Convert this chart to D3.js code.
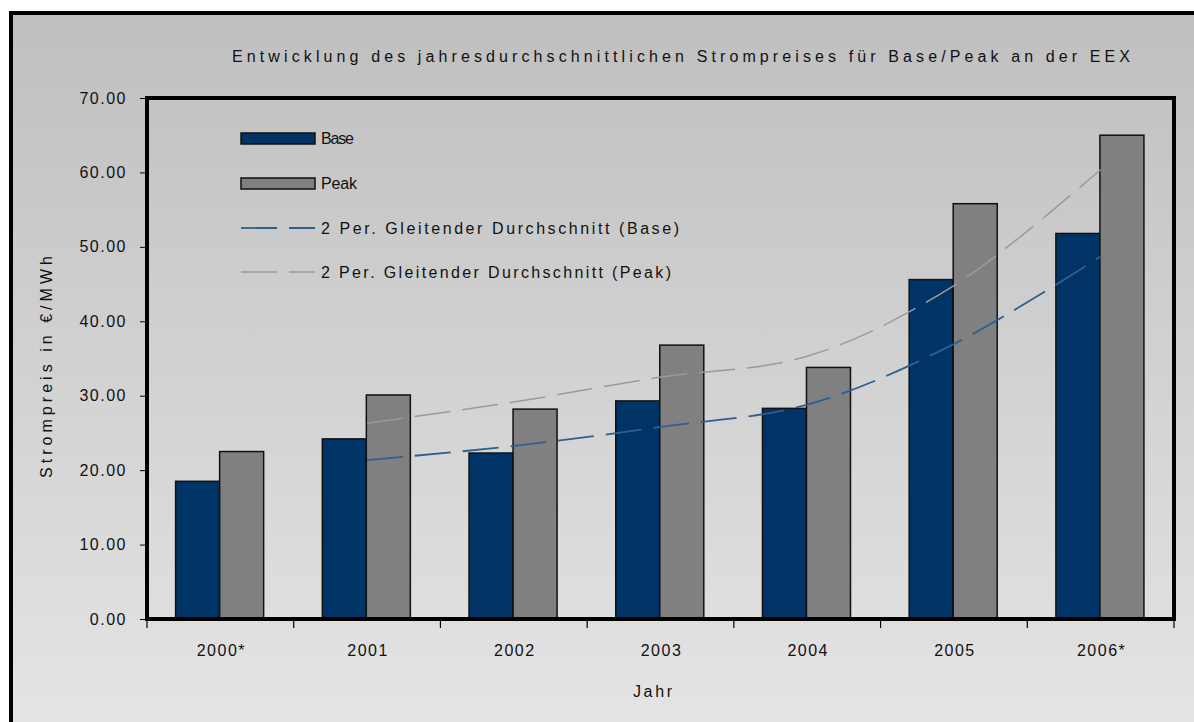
<!DOCTYPE html>
<html>
<head>
<meta charset="utf-8">
<script src="https://cdn.jsdelivr.net/npm/d3@7"></script>
<style>
  html, body { margin: 0; padding: 0; background: #fff; }
  svg { display: block; font-family: "Liberation Sans", Arial, sans-serif; }
</style>
</head>
<body>
<svg id="chart" width="1194" height="722"></svg>
<script>
// Jahresdurchschnittliche Strompreise an der EEX (€/MWh)
const years = ["2000*", "2001", "2002", "2003", "2004", "2005", "2006*"];
const base = [18.5, 24.2, 22.3, 29.3, 28.3, 45.6, 51.8];
const peak = [22.5, 30.1, 28.2, 36.8, 33.8, 55.8, 65.0];
const yTicks = [0, 10, 20, 30, 40, 50, 60, 70];

const titleText = "Entwicklung des jahresdurchschnittlichen Strompreises für Base/Peak an der EEX";
const yTitle = "Strompreis in €/MWh";
const xTitle = "Jahr";
const legendLabels = ["Base", "Peak", "2 Per. Gleitender Durchschnitt (Base)", "2 Per. Gleitender Durchschnitt (Peak)"];

const W = 1194, H = 722;
const plot = { left: 147, right: 1174, top: 98, bottom: 619 };
const FS = 16;

const svg = d3.select("#chart");
const defs = svg.append("defs");
const grad = defs.append("linearGradient").attr("id", "bg").attr("x1", 0).attr("y1", 0).attr("x2", 0).attr("y2", 1);
grad.append("stop").attr("offset", "0%").attr("stop-color", "#bfbfbf");
grad.append("stop").attr("offset", "100%").attr("stop-color", "#e4e4e4");

// chart background and outer frame
svg.append("rect").attr("x", 11).attr("y", 13).attr("width", W - 11).attr("height", H - 13).attr("fill", "url(#bg)");
svg.append("path").attr("d", `M11,${H} L11,13 L${W},13`).attr("fill", "none").attr("stroke", "#000").attr("stroke-width", 4);

// scales
const x = d3.scaleBand().domain(years).range([plot.left, plot.right]);
const xInner = d3.scaleBand().domain(["base", "peak"]).range([x.bandwidth() * 0.195, x.bandwidth() * 0.795]);
const y = d3.scaleLinear().domain([0, 70]).range([plot.bottom, plot.top]);

// bars
const seriesData = years.map((yr, i) => ({ year: yr, base: base[i], peak: peak[i] }));
const colors = { base: "#003366", peak: "#808080" };
const groups = svg.append("g").selectAll("g").data(seriesData).join("g")
  .attr("transform", d => `translate(${x(d.year)},0)`);
groups.selectAll("rect").data(d => ["base", "peak"].map(k => ({ key: k, value: d[k] }))).join("rect")
  .attr("x", d => xInner(d.key))
  .attr("width", xInner.bandwidth())
  .attr("y", d => y(d.value))
  .attr("height", d => y(0) - y(d.value))
  .attr("fill", d => colors[d.key])
  .attr("stroke", "#111")
  .attr("stroke-width", 1.5);

// 2-period moving average trendlines
function movingAvg(values) {
  return values.slice(1).map((v, i) => ({ year: years[i + 1], value: d3.mean([values[i], v]) }));
}
const line = d3.line()
  .x(d => x(d.year) + x.bandwidth() / 2)
  .y(d => y(d.value))
  .curve(d3.curveCatmullRom.alpha(0.5));
const maColors = { base: "#2f5f8f", peak: "#9a9a9a" };
svg.append("path").datum(movingAvg(base)).attr("d", line)
  .attr("fill", "none").attr("stroke", maColors.base).attr("stroke-width", 1.8).attr("stroke-dasharray", "36,12");
svg.append("path").datum(movingAvg(peak)).attr("d", line)
  .attr("fill", "none").attr("stroke", maColors.peak).attr("stroke-width", 1.5).attr("stroke-dasharray", "36,12");

// plot frame
svg.append("rect")
  .attr("x", plot.left).attr("y", plot.top)
  .attr("width", plot.right - plot.left).attr("height", plot.bottom - plot.top)
  .attr("fill", "none").attr("stroke", "#000").attr("stroke-width", 4);

// y axis
const yAxis = svg.append("g").attr("transform", `translate(${plot.left - 2},0)`)
  .call(d3.axisLeft(y).tickValues(yTicks).tickFormat(d3.format(".2f")).tickSize(5).tickPadding(13));
yAxis.select(".domain").remove();
yAxis.selectAll("line").attr("stroke", "#000");
yAxis.selectAll("text").attr("font-size", FS).attr("fill", "#111").attr("letter-spacing", "1.5px")
  .attr("font-family", "'Liberation Sans', Arial, sans-serif");

// x axis ticks at category boundaries
const boundaries = years.map(d => x(d)).concat([plot.right]);
svg.append("g").selectAll("line").data(boundaries).join("line")
  .attr("x1", d => d).attr("x2", d => d)
  .attr("y1", plot.bottom).attr("y2", plot.bottom + 9)
  .attr("stroke", "#000").attr("stroke-width", 1.2);
svg.append("g").selectAll("text").data(years).join("text")
  .attr("x", d => x(d) + x.bandwidth() / 2 + 1)
  .attr("y", 656)
  .attr("text-anchor", "middle")
  .attr("font-size", FS).attr("fill", "#111").attr("letter-spacing", "1.5px")
  .text(d => d);

// titles
svg.append("text").attr("x", 232).attr("y", 62)
  .attr("font-size", FS).attr("fill", "#111")
  .attr("textLength", 898).attr("lengthAdjust", "spacing")
  .text(titleText);
svg.append("text").attr("transform", "translate(52,367) rotate(-90)")
  .attr("text-anchor", "middle").attr("font-size", FS).attr("fill", "#111")
  .attr("textLength", 222).attr("lengthAdjust", "spacing")
  .text(yTitle);
svg.append("text").attr("x", 633).attr("y", 697)
  .attr("font-size", FS).attr("fill", "#111")
  .attr("textLength", 39).attr("lengthAdjust", "spacing")
  .text(xTitle);

// legend
const legendY = [138, 183, 228, 272];
const legendW = [33, 36, 358, 350];
const lg = svg.append("g");
lg.append("rect").attr("x", 241).attr("y", legendY[0] - 5).attr("width", 74).attr("height", 11)
  .attr("fill", colors.base).attr("stroke", "#111").attr("stroke-width", 1.5);
lg.append("rect").attr("x", 241).attr("y", legendY[1] - 5).attr("width", 74).attr("height", 11)
  .attr("fill", colors.peak).attr("stroke", "#111").attr("stroke-width", 1.5);
lg.append("line").attr("x1", 241).attr("x2", 315).attr("y1", legendY[2]).attr("y2", legendY[2])
  .attr("stroke", maColors.base).attr("stroke-width", 1.8).attr("stroke-dasharray", "36,12");
lg.append("line").attr("x1", 241).attr("x2", 315).attr("y1", legendY[3]).attr("y2", legendY[3])
  .attr("stroke", maColors.peak).attr("stroke-width", 1.5).attr("stroke-dasharray", "36,12");
lg.selectAll("text").data(legendLabels).join("text")
  .attr("x", 321).attr("y", (d, i) => legendY[i] + 6)
  .attr("font-size", FS).attr("fill", "#111")
  .attr("textLength", (d, i) => legendW[i]).attr("lengthAdjust", "spacing")
  .text(d => d);
</script>
</body>
</html>
